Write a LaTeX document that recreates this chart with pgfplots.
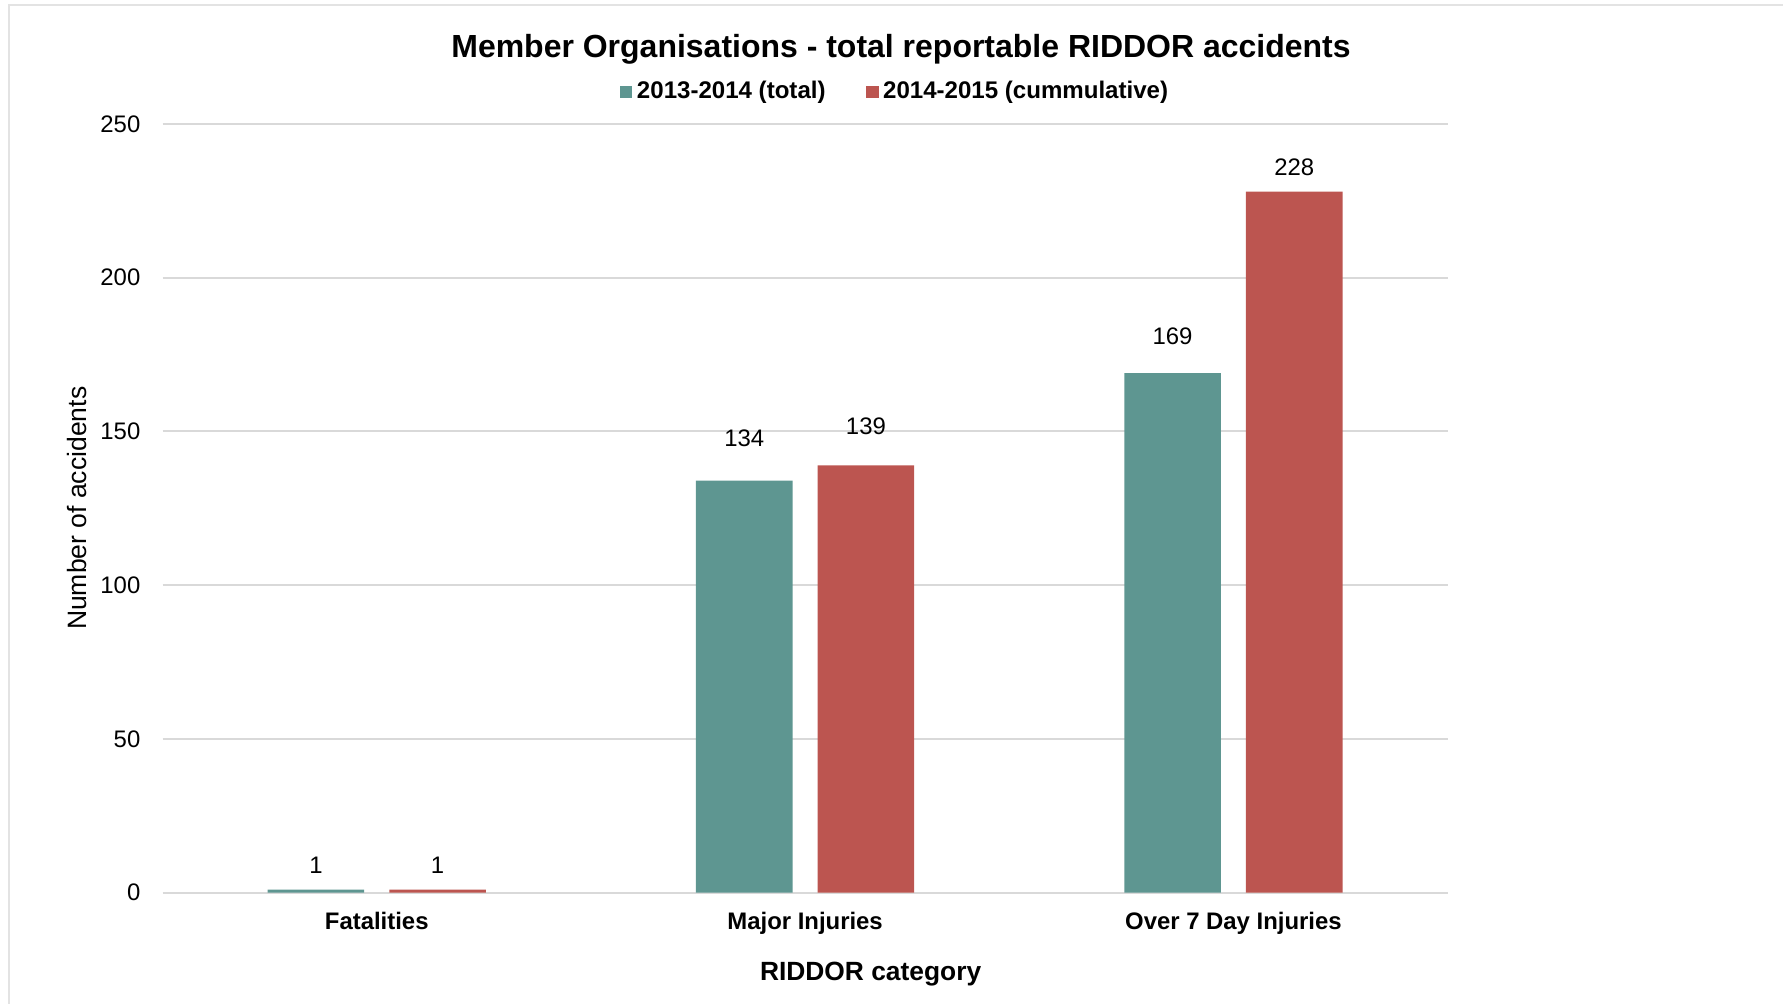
\documentclass[border=0pt]{standalone}
\usepackage{fontspec}
\setmainfont{Liberation Sans}
\usepackage{pgfplots}
\pgfplotsset{compat=1.18}
\usepackage{pgfplotstable}
\definecolor{cteal}{HTML}{5E9691}
\definecolor{cred}{HTML}{BC5550}
\definecolor{cgrid}{HTML}{D9D9D9}
\definecolor{cframe}{HTML}{E3E3E3}

\pgfplotstableread{
x y off
0 1 2.45
1 134 4.28
2 169 3.64
}\tA
\pgfplotstableread{
x y off
0 1 2.45
1 139 3.89
2 228 2.44
}\tB

\begin{document}
\begin{tikzpicture}
\path[use as bounding box] (0,0) rectangle (178.3mm,100.4mm);
\draw[cframe, line width=0.2mm] (0.9mm,0) -- (0.9mm,99.85mm) -- (178.3mm,99.85mm);
\node[font=\bfseries\fontsize{9.1}{11}\selectfont] at (90.1mm,95.5mm) {Member Organisations - total reportable RIDDOR accidents};
\begin{axis}[
  at={(16.26mm,11.14mm)}, anchor=south west,
  scale only axis, width=128.5mm, height=76.86mm,
  ybar,
  xmin=-0.5, xmax=2.5, ymin=0, ymax=250,
  xtick={0,1,2},
  xticklabels={Fatalities,Major Injuries,Over 7 Day Injuries},
  ytick={0,50,100,150,200,250},
  ymajorgrids, grid style={cgrid, line width=0.2mm},
  axis line style={draw=none},
  major tick length=0pt,
  /pgf/number format/assume math mode=true,
  tick label style={font=\fontsize{6.8}{8}\selectfont},
  xticklabel style={font=\bfseries\fontsize{6.8}{8}\selectfont, anchor=base, yshift=-3.7mm},
  yticklabel style={anchor=east, inner sep=0pt, xshift=-2.16mm},
  xlabel={RIDDOR category},
  xlabel style={font=\bfseries\fontsize{7.5}{9}\selectfont, at={(axis description cs:0.551,-0.1063)}, anchor=center},
  ylabel={Number of accidents},
  ylabel style={font=\fontsize{7.55}{9}\selectfont, at={(axis description cs:-0.0664,0.5)}, anchor=center},
  legend columns=2,
  legend style={at={(axis description cs:0.571,1.0415)}, anchor=center, draw=none, fill=none,
    font=\bfseries\fontsize{6.85}{8}\selectfont,
    /tikz/every even column/.append style={column sep=3.6mm},
    nodes={inner xsep=0.45mm, inner ysep=0.3mm}},
  legend image code/.code={\fill[#1] (0mm,-0.62mm) rectangle (1.25mm,0.62mm);},
  bar width=0.2255,
  clip=false,
  nodes near coords,
  visualization depends on={\thisrow{off} \as \off},
  nodes near coords style={font=\fontsize{6.8}{8}\selectfont, anchor=center, yshift=\off mm, text=black},
]
\addplot[fill=cteal, draw=none, bar shift=-0.142] table[x=x,y=y] {\tA};
\addplot[fill=cred, draw=none, bar shift=0.142] table[x=x,y=y] {\tB};
\legend{2013-2014 (total),2014-2015 (cummulative)}
\end{axis}
\end{tikzpicture}
\end{document}
